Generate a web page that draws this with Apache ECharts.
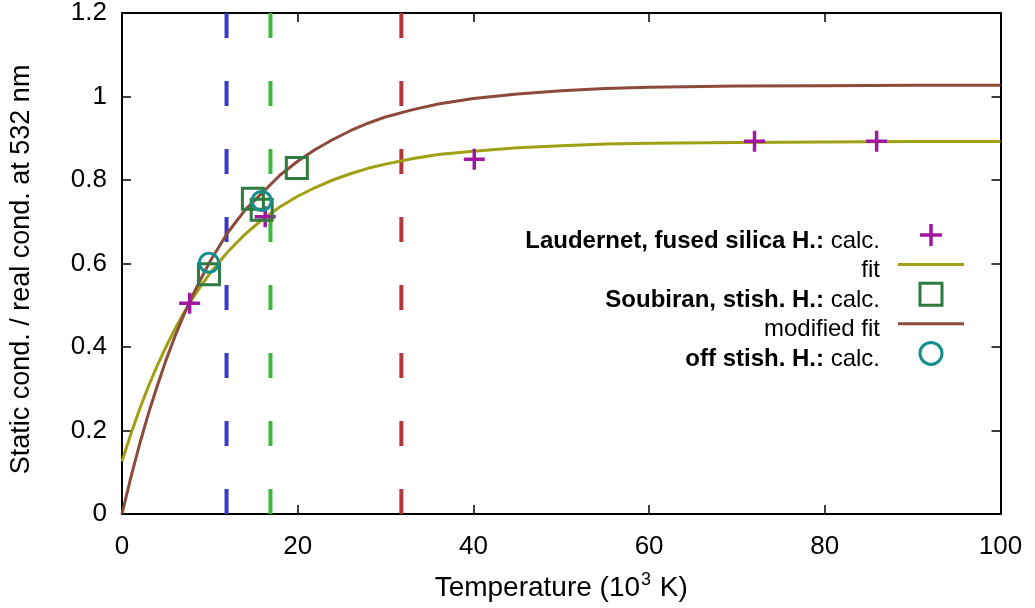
<!DOCTYPE html>
<html>
<head>
<meta charset="utf-8">
<script src="https://cdn.jsdelivr.net/npm/echarts@6/dist/echarts.min.js"></script>
<style>
html,body{margin:0;padding:0;background:#fff;}
#chart{width:1035px;height:608px;}
</style>
</head>
<body>
<div id="chart"></div>
<script>
// Temperature grid (10^3 K) for the fitted curves
const tempGrid = [0,1,2,3,4,5,6,7,8,9,10,12,14,16,18,20,22,24,26,28,30,33,36,40,45,50,55,60,70,80,90,100];
// "fit" curve values
const fitValues = [0.126,0.191,0.251,0.305,0.355,0.400,0.442,0.480,0.515,0.547,0.576,0.627,0.670,0.706,0.736,0.761,0.782,0.800,0.815,0.828,0.838,0.851,0.861,0.869,0.877,0.882,0.886,0.888,0.890,0.891,0.892,0.892];
// "modified fit" curve values
const modFitValues = [0,0.087,0.167,0.240,0.306,0.368,0.424,0.475,0.522,0.564,0.604,0.673,0.728,0.770,0.812,0.845,0.873,0.897,0.918,0.936,0.951,0.968,0.982,0.995,1.006,1.014,1.019,1.022,1.025,1.026,1.027,1.027];
// Laudernet, fused silica Hugoniot: calc.
const laudT = [7.7, 16.3, 40.1, 72.0, 85.9];
const laudV = [0.505, 0.712, 0.850, 0.893, 0.893];
// Soubiran, stishovite Hugoniot: calc.
const soubT = [9.9, 14.9, 15.9, 19.9];
const soubV = [0.574, 0.755, 0.729, 0.829];
// off stishovite Hugoniot: calc.
const offT = [9.9, 15.9];
const offV = [0.602, 0.750];
// vertical dashed marker temperatures
const markerT = [11.9, 16.9, 31.8];
const markerColors = ['#3838c6', '#3cb83c', '#b2363a'];
// axis ranges / ticks
const xMin = 0, xMax = 100, xStep = 20;
const yMin = 0, yMax = 1.2, yStep = 0.2;

const FONT = 'Liberation Sans';
const zip = (a, b) => a.map((v, i) => [v, b[i]]);

const chart = echarts.init(document.getElementById('chart'), null, {renderer: 'canvas'});

const tickStyle = {show: true, inside: true, length: 9, lineStyle: {color: '#000', width: 1.5}};
const axisLineStyle = {show: true, onZero: false, lineStyle: {color: '#000', width: 2}};

const C_FIT = '#a0a014', C_MOD = '#8b4a3a', C_LAUD = '#a0189f', C_SOUB = '#2f7b3f', C_OFF = '#168e8e';

const series = [];
markerT.forEach((t, i) => {
  series.push({
    type: 'line', name: 'marker' + i, data: [[t, yMax], [t, yMin]],
    symbol: 'none', silent: true, z: 1,
    lineStyle: {color: markerColors[i], width: 4, type: [25, 43], cap: 'butt'}
  });
});
series.push({
  type: 'line', name: 'fit', data: zip(tempGrid, fitValues), symbol: 'none', z: 3,
  lineStyle: {color: C_FIT, width: 3}, itemStyle: {color: C_FIT}
});
series.push({
  type: 'line', name: 'modified fit', data: zip(tempGrid, modFitValues), symbol: 'none', z: 3,
  lineStyle: {color: C_MOD, width: 3}, itemStyle: {color: C_MOD}
});
series.push({
  type: 'scatter', name: 'laud', data: zip(laudT, laudV),
  symbol: 'path://M0,10 L20,10 M10,0 L10,20', symbolSize: 21, z: 4,
  itemStyle: {color: 'transparent', borderColor: C_LAUD, borderWidth: 3.5, opacity: 1}
});
series.push({
  type: 'scatter', name: 'soub', data: zip(soubT, soubV),
  symbol: 'rect', symbolSize: 21, z: 4,
  itemStyle: {color: 'transparent', borderColor: C_SOUB, borderWidth: 3, opacity: 1}
});
series.push({
  type: 'scatter', name: 'off', data: zip(offT, offV),
  symbol: 'circle', symbolSize: 19, z: 5,
  itemStyle: {color: 'transparent', borderColor: C_OFF, borderWidth: 3, opacity: 1}
});

const legendLabels = {
  'laud': '{b|Laudernet, fused silica H.:}{r| calc.}{g| }',
  'fit': '{r|fit}{g| }',
  'soub': '{b|Soubiran, stish. H.:}{r| calc.}{g| }',
  'modified fit': '{r|modified fit}{g| }',
  'off': '{b|off stish. H.:}{r| calc.}{g| }'
};
const LINE_ICON = 'path://M0,0 L66,0 L66,3 L0,3 Z';
const SQUARE_ICON = 'path://M0,0 L10,0 L10,10 L0,10 Z';
const LFS = 24;

const option = {
  animation: false,
  backgroundColor: '#fff',
  grid: {left: 122, right: 34.5, top: 10, bottom: 94, containLabel: false},
  legend: {
    orient: 'vertical', align: 'right', right: 71, top: 217, padding: 0,
    itemWidth: 66, itemHeight: 22, itemGap: -6.4,
    selectedMode: false, symbolKeepAspect: true,
    data: [
      {name: 'laud', itemStyle: {color: 'transparent', borderColor: C_LAUD, borderWidth: 3.5}},
      {name: 'fit', icon: LINE_ICON, itemStyle: {color: C_FIT, borderWidth: 0}},
      {name: 'soub', icon: SQUARE_ICON, itemStyle: {color: 'transparent', borderColor: C_SOUB, borderWidth: 3}},
      {name: 'modified fit', icon: LINE_ICON, itemStyle: {color: C_MOD, borderWidth: 0}},
      {name: 'off', itemStyle: {color: 'transparent', borderColor: C_OFF, borderWidth: 3}}
    ],
    formatter: name => legendLabels[name],
    textStyle: {
      fontFamily: FONT, fontSize: LFS, color: '#000',
      rich: {
        b: {fontFamily: FONT, fontSize: LFS, fontWeight: 'bold', color: '#000', lineHeight: 20, padding: [12, 0, 0, 0]},
        r: {fontFamily: FONT, fontSize: LFS, color: '#000', lineHeight: 20, padding: [12, 0, 0, 0]},
        g: {fontFamily: FONT, fontSize: LFS, lineHeight: 20, width: 13}
      }
    }
  },
  xAxis: [{
    type: 'value', min: xMin, max: xMax, interval: xStep, position: 'bottom',
    name: '{n|Temperature (10}{s|3}{n| K)}', nameLocation: 'middle', nameGap: 56,
    nameTextStyle: {fontFamily: FONT, fontSize: 28, color: '#000',
      rich: {
        n: {fontFamily: FONT, fontSize: 28, color: '#000', verticalAlign: 'bottom', lineHeight: 32},
        s: {fontFamily: FONT, fontSize: 18, color: '#000', verticalAlign: 'bottom', lineHeight: 32, padding: [0, 1, 13, 1]}
      }},
    axisLine: axisLineStyle, axisTick: tickStyle, splitLine: {show: false},
    axisLabel: {fontFamily: FONT, fontSize: 26, color: '#000', margin: 20}
  }, {
    type: 'value', min: xMin, max: xMax, interval: xStep, position: 'top',
    axisLine: axisLineStyle, axisTick: tickStyle, splitLine: {show: false},
    axisLabel: {show: false}
  }],
  yAxis: [{
    type: 'value', min: yMin, max: yMax, interval: yStep, position: 'left',
    name: 'Static cond. / real cond. at 532 nm', nameLocation: 'middle', nameGap: 87,
    nameTextStyle: {fontFamily: FONT, fontSize: 27, color: '#000', padding: [0, 12, 0, 0]},
    axisLine: axisLineStyle, axisTick: tickStyle, splitLine: {show: false},
    axisLabel: {fontFamily: FONT, fontSize: 26, color: '#000', margin: 15,
      formatter: v => (Math.round(v * 10) / 10).toString()}
  }, {
    type: 'value', min: yMin, max: yMax, interval: yStep, position: 'right',
    axisLine: axisLineStyle, axisTick: tickStyle, splitLine: {show: false},
    axisLabel: {show: false}
  }],
  series: series
};
chart.setOption(option);
</script>
</body>
</html>
